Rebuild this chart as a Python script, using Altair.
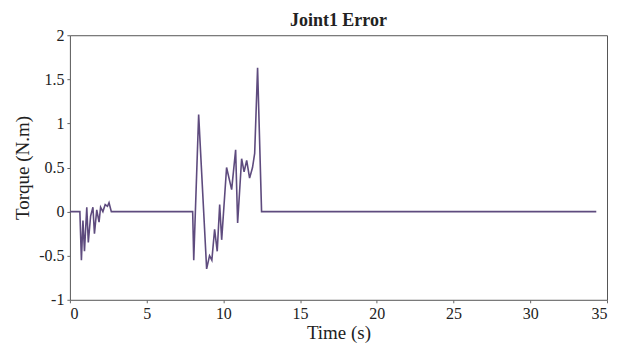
import altair as alt
import pandas as pd

time_s = [0, 0.65, 0.75, 0.85, 0.95, 1.1, 1.2, 1.35, 1.5, 1.6, 1.75, 1.9, 2.0, 2.15, 2.3, 2.45, 2.55, 2.7,
          8.0, 8.07, 8.39, 8.91, 9.1, 9.25, 9.43, 9.6, 9.76, 9.89, 10.21, 10.54, 10.8, 10.93, 11.19,
          11.35, 11.52, 11.71, 11.9, 12.04, 12.23, 12.49, 34.3]
torque = [0, 0, -0.55, -0.1, -0.45, 0.05, -0.35, -0.05, 0.05, -0.25, 0.02, -0.12, 0.05, 0.0, 0.08, 0.06, 0.1, 0.0,
          0, -0.55, 1.1, -0.65, -0.5, -0.55, -0.2, -0.45, 0.08, -0.32, 0.5, 0.25, 0.7, -0.13, 0.6,
          0.45, 0.58, 0.38, 0.5, 0.66, 1.63, 0.0, 0.0]

x_ticks = [0, 5, 10, 15, 20, 25, 30, 35]
y_ticks = [-1, -0.5, 0, 0.5, 1, 1.5, 2]

df = pd.DataFrame({"t": time_s, "v": torque, "order": list(range(len(time_s)))})

FONT = "Liberation Serif"
HYPHEN = "replace(datum.label, '\u2212', '-')"

chart = alt.Chart(df).mark_line(color="#5e4b7e", strokeWidth=1.6).encode(
    x=alt.X("t:Q", scale=alt.Scale(domain=[0, 35], nice=False, zero=False),
            axis=alt.Axis(values=x_ticks, title="Time (s)", grid=False, domain=False,
                          tickSize=3, labelPadding=3, titlePadding=2, format="~g")),
    y=alt.Y("v:Q", scale=alt.Scale(domain=[-1, 2], nice=False, zero=False),
            axis=alt.Axis(values=y_ticks, title="Torque (N.m)", grid=False, domain=False,
                          tickSize=3, labelPadding=3, titlePadding=6, format="~g",
                          labelExpr=HYPHEN)),
    order="order:Q",
).properties(
    width=538, height=265,
    title=alt.TitleParams("Joint1 Error", font=FONT, fontSize=18, fontWeight="bold",
                          color="#222222", offset=0, dy=3),
    autosize=alt.AutoSizeParams(type="none"),
    padding={"left": 62, "top": 27, "right": 10, "bottom": 44},
).configure(
    background="white"
).configure_view(
    stroke="#555555", strokeWidth=1
).configure_axis(
    labelFont=FONT, titleFont=FONT, labelFontSize=16, titleFontSize=19,
    labelColor="#222222", titleColor="#222222", tickColor="#666666",
    titleFontWeight="normal"
)

chart.save("out.html", embed_options={"renderer": "svg", "actions": False})
